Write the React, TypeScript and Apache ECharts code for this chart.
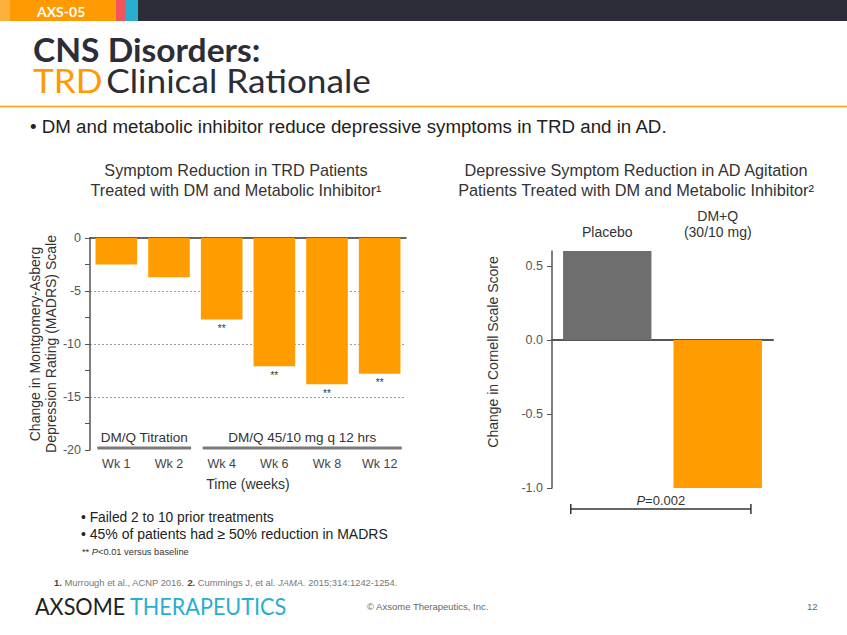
import React, { useEffect, useRef } from "react";
import * as echarts from "echarts";

// ---- Left chart data (TRD, MADRS change) ----
const trdWeeks = ["Wk 1", "Wk 2", "Wk 4", "Wk 6", "Wk 8", "Wk 12"];
const madrsChange = [-2.5, -3.7, -7.7, -12.1, -13.8, -12.8];
const significance = ["", "", "**", "**", "**", "**"];
const madrsTickValues = [0, -2.5, -5, -7.5, -10, -12.5, -15, -17.5, -20];
const madrsLabelValues = [0, -5, -10, -15, -20];
const phaseNames = ["DM/Q Titration", "DM/Q 45/10 mg q 12 hrs"];
const phaseStart = [0, 2];
const phaseEnd = [1, 5];

// ---- Right chart data (AD agitation, Cornell scale change) ----
const adGroups = ["Placebo", "DM+Q\n(30/10 mg)"];
const cornellChange = [0.6, -1.0];
const cornellTickValues = [0.5, 0, -0.5, -1.0];
const pValueLabel = "P=0.002";

const ORANGE = "#FF9C00";
const GRAY_BAR = "#6E6E6E";
const adColors = [GRAY_BAR, ORANGE];
const DARK = "#2D2D38";
const TXT = "#333333";
const SANS = "'Liberation Sans', Arial, sans-serif";
const GEO = "Lato, 'Open Sans', sans-serif";

export default function App() {
  const ref = useRef<HTMLDivElement>(null);

  useEffect(() => {
    const el = ref.current;
    if (!el) return;
    const chart = echarts.init(el, null, { renderer: "svg" });

    chart.setOption({
      animation: false,
      backgroundColor: "#ffffff",
      textStyle: { fontFamily: SANS },
      grid: [
        { left: 90, top: 238, width: 316, height: 212 },
        { left: 552, top: 251, width: 221, height: 237 },
      ],
      xAxis: [
        {
          gridIndex: 0,
          type: "category",
          data: trdWeeks,
          position: "bottom",
          axisLine: { show: false, onZero: false },
          axisTick: { show: false },
          axisLabel: { margin: 7, fontSize: 12.5, color: "#444", fontFamily: SANS },
          name: "Time (weeks)",
          nameLocation: "middle",
          nameGap: 27,
          nameTextStyle: { fontSize: 14, color: TXT, fontFamily: SANS },
        },
        {
          gridIndex: 0,
          type: "category",
          data: trdWeeks,
          position: "top",
          axisLine: { show: true, onZero: false, lineStyle: { color: "#333", width: 1.5 } },
          axisTick: { show: false },
          axisLabel: { show: false },
        },
        {
          gridIndex: 1,
          type: "category",
          data: adGroups,
          position: "top",
          axisLine: { show: false, onZero: false },
          axisTick: { show: false },
          axisLabel: { margin: 11, fontSize: 14, lineHeight: 16, color: TXT, fontFamily: SANS },
        },
        {
          gridIndex: 1,
          type: "category",
          data: adGroups,
          position: "bottom",
          axisLine: { show: true, onZero: true, lineStyle: { color: "#555", width: 2 } },
          axisTick: { show: false },
          axisLabel: { show: false },
        },
      ],
      yAxis: [
        {
          gridIndex: 0,
          type: "value",
          min: -20,
          max: 0,
          interval: 5,
          axisLine: { show: true, lineStyle: { color: "#555", width: 1.5 } },
          axisTick: {
            show: true,
            length: 5,
            customValues: madrsTickValues,
            lineStyle: { color: "#555" },
          },
          axisLabel: {
            customValues: madrsLabelValues,
            fontSize: 12.5,
            color: "#555",
            margin: 9,
            fontFamily: SANS,
          },
          splitLine: { show: false },
        },
        {
          gridIndex: 1,
          type: "value",
          min: -1,
          max: 0.6,
          axisLine: { show: true, lineStyle: { color: "#555", width: 1.5 } },
          axisTick: {
            show: true,
            length: 5,
            customValues: cornellTickValues,
            lineStyle: { color: "#555" },
          },
          axisLabel: {
            customValues: cornellTickValues,
            formatter: (v: number) => v.toFixed(1),
            fontSize: 12.5,
            color: "#555",
            margin: 9,
            fontFamily: SANS,
          },
          splitLine: { show: false },
        },
        {
          // gridlines only, for the left chart
          gridIndex: 0,
          type: "value",
          position: "right",
          min: -20,
          max: 0,
          interval: 5,
          axisLine: { show: false },
          axisTick: { show: false },
          axisLabel: { show: false },
          splitLine: {
            show: true,
            showMinLine: false,
            showMaxLine: false,
            lineStyle: { color: "#9a9a9a", type: [2, 2], width: 1 },
          },
        },
      ],
      series: [
        {
          type: "bar",
          xAxisIndex: 0,
          yAxisIndex: 0,
          data: madrsChange,
          barCategoryGap: "21%",
          itemStyle: { color: ORANGE },
          label: {
            show: true,
            position: "bottom",
            distance: 4,
            formatter: (p: any) => significance[p.dataIndex],
            fontSize: 10,
            color: TXT,
            fontFamily: SANS,
          },
        },
        {
          type: "bar",
          xAxisIndex: 2,
          yAxisIndex: 1,
          data: cornellChange.map((v, i) => ({ value: v, itemStyle: { color: adColors[i] } })),
          barCategoryGap: "20%",
        },
      ],
    });

    // positions derived from the axes
    const px0 = chart.convertToPixel({ gridIndex: 0 }, [0, 0]) as number[];
    const px1 = chart.convertToPixel({ gridIndex: 0 }, [1, 0]) as number[];
    const band = px1[0] - px0[0];
    const phaseY = (chart.convertToPixel({ gridIndex: 0 }, [0, -20]) as number[])[1] - 2;
    const phaseGraphics: any[] = [];
    phaseNames.forEach((name, i) => {
      const a = (chart.convertToPixel({ gridIndex: 0 }, [phaseStart[i], 0]) as number[])[0];
      const b = (chart.convertToPixel({ gridIndex: 0 }, [phaseEnd[i], 0]) as number[])[0];
      const x1 = a - band * 0.36;
      const x2 = b + band * 0.42;
      phaseGraphics.push({
        type: "line",
        shape: { x1, y1: phaseY, x2, y2: phaseY },
        style: { stroke: "#7a7a7a", lineWidth: 3 },
      });
      phaseGraphics.push({
        type: "text",
        x: (x1 + x2) / 2,
        y: phaseY - 11,
        style: {
          text: name,
          font: `13.5px ${SANS}`,
          fill: TXT,
          textAlign: "center",
          textVerticalAlign: "middle",
        },
      });
    });

    const q0 = chart.convertToPixel({ gridIndex: 1 }, [0, -1]) as number[];
    const q1 = chart.convertToPixel({ gridIndex: 1 }, [1, -1]) as number[];
    const band2 = q1[0] - q0[0];
    const bx1 = q0[0] - band2 * 0.33;
    const bx2 = q1[0] + band2 * 0.3;
    const by = q0[1] + 21;
    const bracket: any[] = [
      { type: "line", shape: { x1: bx1, y1: by, x2: bx2, y2: by }, style: { stroke: "#333", lineWidth: 1.5 } },
      { type: "line", shape: { x1: bx1, y1: by - 5, x2: bx1, y2: by + 5 }, style: { stroke: "#333", lineWidth: 1.5 } },
      { type: "line", shape: { x1: bx2, y1: by - 5, x2: bx2, y2: by + 5 }, style: { stroke: "#333", lineWidth: 1.5 } },
      {
        type: "text",
        x: (bx1 + bx2) / 2,
        y: by - 9,
        style: {
          text: `{i|${pValueLabel.slice(0, 1)}}{n|${pValueLabel.slice(1)}}`,
          rich: {
            i: { fontStyle: "italic", fontSize: 13, fontFamily: SANS, fill: TXT },
            n: { fontSize: 13, fontFamily: SANS, fill: TXT },
          },
          textAlign: "center",
          textVerticalAlign: "middle",
        },
      },
    ];

    const base: any[] = [
      // top banner
      { type: "rect", shape: { x: 0, y: 0, width: 847, height: 21 }, style: { fill: "#2D2D3A" } },
      { type: "rect", shape: { x: 0, y: 0, width: 10, height: 21 }, style: { fill: "#FBB03B" } },
      { type: "rect", shape: { x: 10, y: 0, width: 106, height: 21 }, style: { fill: "#FF9A00" } },
      { type: "rect", shape: { x: 116, y: 0, width: 10, height: 21 }, style: { fill: "#F2555A" } },
      { type: "rect", shape: { x: 126, y: 0, width: 12, height: 21 }, style: { fill: "#2AAED0" } },
      {
        type: "text",
        x: 37,
        y: 11,
        style: { text: "AXS-05", font: `bold 14px ${GEO}`, fill: "#ffffff", textVerticalAlign: "middle" },
      },
      // page title
      {
        type: "text",
        x: 33,
        y: 50,
        scaleX: 1.05,
        style: {
          text: "CNS Disorders:",
          font: `bold 32px ${GEO}`,
          lineHeight: 29,
          fill: DARK,
          textVerticalAlign: "middle",
        },
      },
      {
        type: "text",
        x: 33,
        y: 81,
        scaleX: 1.1,
        style: {
          text: "{o|TRD} {d|Clinical Rationale}",
          rich: {
            o: { fontSize: 32, fontFamily: GEO, fill: "#FF9A00", lineHeight: 29 },
            d: { fontSize: 32, fontFamily: GEO, fill: DARK, lineHeight: 29 },
          },
          textVerticalAlign: "middle",
        },
      },
      { type: "line", shape: { x1: 0, y1: 106.5, x2: 847, y2: 106.5 }, style: { stroke: "#F7A21B", lineWidth: 1.5 } },
      {
        type: "text",
        x: 30,
        y: 127,
        scaleX: 1.04,
        style: {
          text: "• DM and metabolic inhibitor reduce depressive symptoms in TRD and in AD.",
          font: `18px ${SANS}`,
          fill: "#222",
          textVerticalAlign: "middle",
        },
      },
      // chart titles
      {
        type: "text",
        x: 236,
        y: 170,
        style: { text: "Symptom Reduction in TRD Patients", font: `16.2px ${SANS}`, fill: TXT, textAlign: "center", textVerticalAlign: "middle" },
      },
      {
        type: "text",
        x: 236,
        y: 190,
        style: { text: "Treated with DM and Metabolic Inhibitor¹", font: `16.2px ${SANS}`, fill: TXT, textAlign: "center", textVerticalAlign: "middle" },
      },
      {
        type: "text",
        x: 636,
        y: 170,
        style: { text: "Depressive Symptom Reduction in AD Agitation", font: `16.3px ${SANS}`, fill: TXT, textAlign: "center", textVerticalAlign: "middle" },
      },
      {
        type: "text",
        x: 636,
        y: 190,
        style: { text: "Patients Treated with DM and Metabolic Inhibitor²", font: `16.3px ${SANS}`, fill: TXT, textAlign: "center", textVerticalAlign: "middle" },
      },
      // y-axis titles
      {
        type: "text",
        x: 43,
        y: 344,
        rotation: Math.PI / 2,
        style: {
          text: "Change in Montgomery-Asberg\nDepression Rating (MADRS) Scale",
          font: `14px ${SANS}`,
          lineHeight: 16,
          fill: TXT,
          textAlign: "center",
          textVerticalAlign: "middle",
        },
      },
      {
        type: "text",
        x: 493,
        y: 352,
        rotation: Math.PI / 2,
        style: {
          text: "Change in Cornell Scale Score",
          font: `14px ${SANS}`,
          fill: TXT,
          textAlign: "center",
          textVerticalAlign: "middle",
        },
      },
      // notes under left chart
      {
        type: "text",
        x: 81,
        y: 517,
        style: { text: "• Failed 2 to 10 prior treatments", font: `13.8px ${SANS}`, fill: "#222", textVerticalAlign: "middle" },
      },
      {
        type: "text",
        x: 81,
        y: 534,
        style: { text: "• 45% of patients had ≥ 50% reduction in MADRS", font: `14px ${SANS}`, fill: "#222", textVerticalAlign: "middle" },
      },
      {
        type: "text",
        x: 82,
        y: 552,
        style: {
          text: "{n|** }{i|P}{n|<0.01 versus baseline}",
          rich: {
            n: { fontSize: 9.3, fontFamily: SANS, fill: "#333" },
            i: { fontSize: 9.3, fontFamily: SANS, fill: "#333", fontStyle: "italic" },
          },
          textVerticalAlign: "middle",
        },
      },
      // references
      {
        type: "text",
        x: 54,
        y: 582,
        style: {
          text: "{b|1.}{n| Murrough et al., ACNP 2016. }{b|2.}{n| Cummings J, et al. }{i|JAMA.}{n| 2015;314:1242-1254.}",
          rich: {
            b: { fontSize: 9.4, fontFamily: SANS, fill: "#444", fontWeight: "bold" },
            n: { fontSize: 9.4, fontFamily: SANS, fill: "#777" },
            i: { fontSize: 9.4, fontFamily: SANS, fill: "#777", fontStyle: "italic" },
          },
          textVerticalAlign: "middle",
        },
      },
      // footer
      {
        type: "text",
        x: 35,
        y: 606,
        scaleX: 0.9,
        style: {
          text: "{a|AXSOME}{t| THERAPEUTICS}",
          rich: {
            a: { fontSize: 24, fontFamily: GEO, fill: "#222" },
            t: { fontSize: 24, fontFamily: GEO, fill: "#2AAED0" },
          },
          textVerticalAlign: "middle",
        },
      },
      {
        type: "text",
        x: 367,
        y: 606,
        style: { text: "© Axsome Therapeutics, Inc.", font: `9.5px ${SANS}`, fill: "#666", textVerticalAlign: "middle" },
      },
      {
        type: "text",
        x: 807,
        y: 606,
        style: { text: "12", font: `9.5px ${SANS}`, fill: "#666", textVerticalAlign: "middle" },
      },
    ];

    chart.setOption({ graphic: { elements: [...base, ...phaseGraphics, ...bracket] } });

    return () => {
      chart.dispose();
    };
  }, []);

  return (
    <div
      ref={ref}
      style={{ position: "absolute", left: 0, top: 0, width: 847, height: 635, background: "#fff" }}
    />
  );
}
